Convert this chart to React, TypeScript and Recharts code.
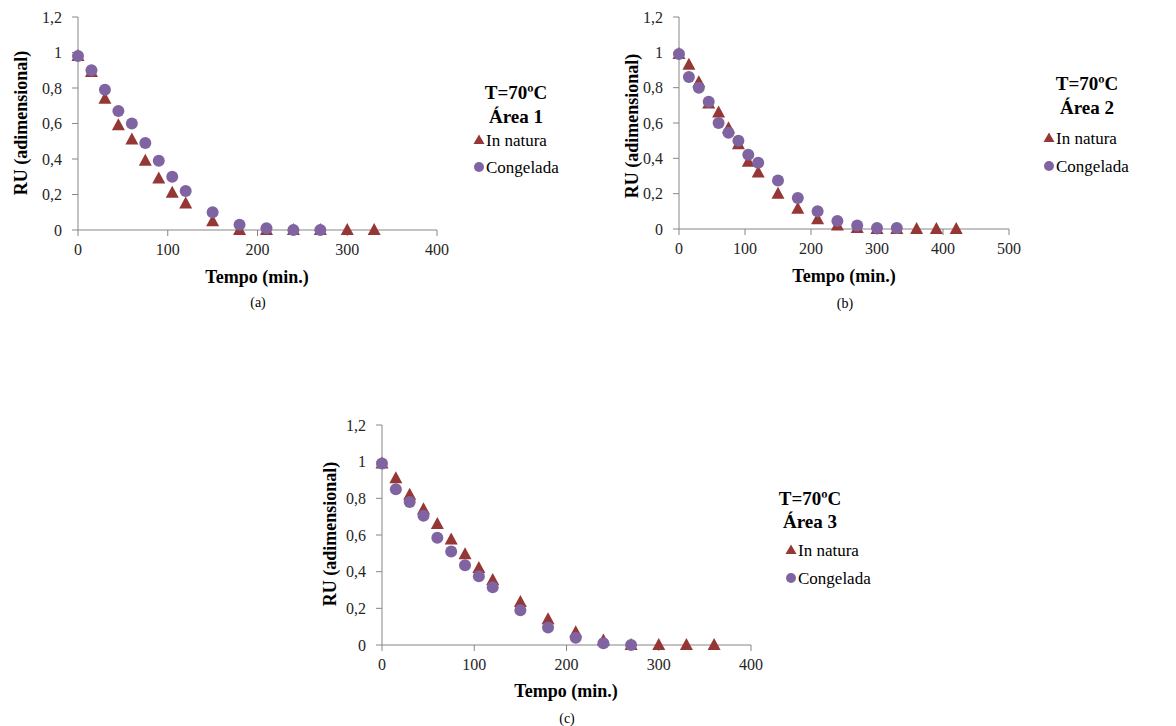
import React from 'react';
import { ScatterChart, Scatter, XAxis, YAxis } from 'recharts';

// ---------- DATA ----------
// Panel (a) - Área 1
const timesA_natura = [0, 15, 30, 45, 60, 75, 90, 105, 120, 150, 180, 210, 240, 270, 300, 330];
const ruA_natura = [0.98, 0.89, 0.74, 0.59, 0.51, 0.39, 0.29, 0.21, 0.15, 0.05, 0.0, 0.0, 0.0, 0.0, 0.0, 0.0];
const timesA_congelada = [0, 15, 30, 45, 60, 75, 90, 105, 120, 150, 180, 210, 240, 270];
const ruA_congelada = [0.98, 0.9, 0.79, 0.67, 0.6, 0.49, 0.39, 0.3, 0.22, 0.1, 0.03, 0.01, 0.0, 0.0];

// Panel (b) - Área 2
const timesB_natura = [0, 15, 30, 45, 60, 75, 90, 105, 120, 150, 180, 210, 240, 270, 300, 330, 360, 390, 420];
const ruB_natura = [0.99, 0.93, 0.83, 0.71, 0.66, 0.57, 0.48, 0.38, 0.32, 0.2, 0.115, 0.055, 0.02, 0.005, 0.0, 0.0, 0.0, 0.0, 0.0];
const timesB_congelada = [0, 15, 30, 45, 60, 75, 90, 105, 120, 150, 180, 210, 240, 270, 300, 330];
const ruB_congelada = [0.99, 0.86, 0.8, 0.72, 0.6, 0.545, 0.5, 0.42, 0.375, 0.275, 0.175, 0.1, 0.045, 0.02, 0.005, 0.005];

// Panel (c) - Área 3
const timesC_natura = [0, 15, 30, 45, 60, 75, 90, 105, 120, 150, 180, 210, 240, 270, 300, 330, 360];
const ruC_natura = [0.99, 0.91, 0.82, 0.74, 0.66, 0.575, 0.495, 0.42, 0.355, 0.235, 0.14, 0.07, 0.025, 0.0, 0.0, 0.0, 0.0];
const timesC_congelada = [0, 15, 30, 45, 60, 75, 90, 105, 120, 150, 180, 210, 240, 270];
const ruC_congelada = [0.99, 0.85, 0.78, 0.705, 0.585, 0.51, 0.435, 0.375, 0.315, 0.19, 0.095, 0.04, 0.01, 0.0];

const yTicks = [0, 0.2, 0.4, 0.6, 0.8, 1, 1.2];
const xTicks400 = [0, 100, 200, 300, 400];
const xTicks500 = [0, 100, 200, 300, 400, 500];

const seriesNames = ['In natura', 'Congelada'];
const titleTemp = 'T=70ºC';
const areaLabels = ['Área 1', 'Área 2', 'Área 3'];
const captions = ['(a)', '(b)', '(c)'];
const xTitle = 'Tempo (min.)';
const yTitle = 'RU (adimensional)';

// ---------- STYLE ----------
const FONT = '"Liberation Serif", "Times New Roman", serif';
const NATURA = '#953735';
const CONG = '#8064A2';
const AXIS = '#868686';
const TEXT = '#262626';

const zip = (xs: number[], ys: number[]) => xs.map((x, i) => ({ x, y: ys[i] }));

const TriangleShape = (props: any) => {
  const { cx, cy } = props;
  if (cx == null || cy == null) return null;
  return (
    <polygon
      points={`${cx},${cy - 7} ${cx - 6.5},${cy + 5} ${cx + 6.5},${cy + 5}`}
      fill={NATURA}
    />
  );
};

const CircleShape = (props: any) => {
  const { cx, cy } = props;
  if (cx == null || cy == null) return null;
  return <circle cx={cx} cy={cy} r={6} fill={CONG} />;
};

const fmt = (v: number) => String(v).replace('.', ',');

type PanelProps = {
  x0: number;
  y0: number;
  plotW: number;
  plotH: number;
  xMax: number;
  xTicks: number[];
  natura: { x: number; y: number }[];
  congelada: { x: number; y: number }[];
};

const YAXIS_W = 78;
const TOP_M = 17;
const RIGHT_M = 14;
const XAXIS_H = 40;

function Panel({ x0, y0, plotW, plotH, xMax, xTicks, natura, congelada }: PanelProps) {
  const width = YAXIS_W + plotW + RIGHT_M;
  const height = TOP_M + plotH + XAXIS_H;
  return (
    <div style={{ position: 'absolute', left: x0 - YAXIS_W, top: y0 - TOP_M, width, height }}>
      <ScatterChart
        width={width}
        height={height}
        margin={{ top: TOP_M, right: RIGHT_M, bottom: 0, left: 0 }}
      >
        <XAxis
          type="number"
          dataKey="x"
          domain={[0, xMax]}
          ticks={xTicks}
          height={XAXIS_H}
          stroke={AXIS}
          tickSize={6}
          tickMargin={8}
          tick={{ fill: TEXT, fontSize: 16, fontFamily: FONT }}
          tickLine={{ stroke: AXIS }}
          interval={0}
        />
        <YAxis
          type="number"
          dataKey="y"
          domain={[0, 1.2]}
          ticks={yTicks}
          width={YAXIS_W}
          stroke={AXIS}
          tickSize={6}
          tickMargin={10}
          tickFormatter={fmt}
          tick={{ fill: TEXT, fontSize: 16, fontFamily: FONT }}
          tickLine={{ stroke: AXIS }}
          interval={0}
        />
        <Scatter
          name={seriesNames[0]}
          data={natura}
          shape={TriangleShape}
          isAnimationActive={false}
        />
        <Scatter
          name={seriesNames[1]}
          data={congelada}
          shape={CircleShape}
          isAnimationActive={false}
        />
      </ScatterChart>
    </div>
  );
}

type LegendProps = { cx: number; titleY: number; areaY: number; area: string; mx: number; y1: number; y2: number };

function LegendBlock({ cx, titleY, areaY, area, mx, y1, y2 }: LegendProps) {
  return (
    <g>
      <text x={cx} y={titleY} textAnchor="middle" dominantBaseline="central" fontSize={19} fontWeight="bold" fontFamily={FONT} fill="#000">
        {titleTemp}
      </text>
      <text x={cx} y={areaY} textAnchor="middle" dominantBaseline="central" fontSize={19} fontWeight="bold" fontFamily={FONT} fill="#000">
        {area}
      </text>
      <polygon points={`${mx},${y1 - 5.5} ${mx - 5.5},${y1 + 4} ${mx + 5.5},${y1 + 4}`} fill={NATURA} />
      <text x={mx + 7} y={y1} dominantBaseline="central" fontSize={17} fontFamily={FONT} fill="#000">
        {seriesNames[0]}
      </text>
      <circle cx={mx} cy={y2} r={5} fill={CONG} />
      <text x={mx + 7} y={y2} dominantBaseline="central" fontSize={17} fontFamily={FONT} fill="#000">
        {seriesNames[1]}
      </text>
    </g>
  );
}

function AxisTitles({ xc, xy, yx, yc, cap, capY }: { xc: number; xy: number; yx: number; yc: number; cap: string; capY: number }) {
  return (
    <g>
      <text x={xc} y={xy} textAnchor="middle" dominantBaseline="central" fontSize={18} fontWeight="bold" fontFamily={FONT} fill="#000">
        {xTitle}
      </text>
      <text
        transform={`translate(${yx},${yc}) rotate(-90)`}
        textAnchor="middle"
        dominantBaseline="central"
        fontSize={18}
        fontWeight="bold"
        fontFamily={FONT}
        fill="#000"
      >
        {yTitle}
      </text>
      <text x={xc + 1} y={capY} textAnchor="middle" dominantBaseline="central" fontSize={14} fontFamily={FONT} fill="#000">
        {cap}
      </text>
    </g>
  );
}

export default function App() {
  return (
    <div style={{ position: 'absolute', left: 0, top: 0, width: 1176, height: 726, background: '#fff', overflow: 'hidden' }}>
      <Panel
        x0={78}
        y0={17}
        plotW={359}
        plotH={213}
        xMax={400}
        xTicks={xTicks400}
        natura={zip(timesA_natura, ruA_natura)}
        congelada={zip(timesA_congelada, ruA_congelada)}
      />
      <Panel
        x0={679}
        y0={17}
        plotW={330}
        plotH={212}
        xMax={500}
        xTicks={xTicks500}
        natura={zip(timesB_natura, ruB_natura)}
        congelada={zip(timesB_congelada, ruB_congelada)}
      />
      <Panel
        x0={382}
        y0={425}
        plotW={369}
        plotH={220}
        xMax={400}
        xTicks={xTicks400}
        natura={zip(timesC_natura, ruC_natura)}
        congelada={zip(timesC_congelada, ruC_congelada)}
      />
      <svg
        width={1176}
        height={726}
        style={{ position: 'absolute', left: 0, top: 0, pointerEvents: 'none' }}
      >
        <AxisTitles xc={257} xy={277} yx={21} yc={123} cap={captions[0]} capY={302} />
        <AxisTitles xc={844} xy={276} yx={632} yc={126} cap={captions[1]} capY={303} />
        <AxisTitles xc={566} xy={691} yx={330} yc={534} cap={captions[2]} capY={718} />
        <LegendBlock cx={516} titleY={92} areaY={116} area={areaLabels[0]} mx={479} y1={140} y2={167} />
        <LegendBlock cx={1087} titleY={83} areaY={107} area={areaLabels[1]} mx={1049} y1={138} y2={166} />
        <LegendBlock cx={810} titleY={498} areaY={521} area={areaLabels[2]} mx={791} y1={550} y2={578} />
      </svg>
    </div>
  );
}
